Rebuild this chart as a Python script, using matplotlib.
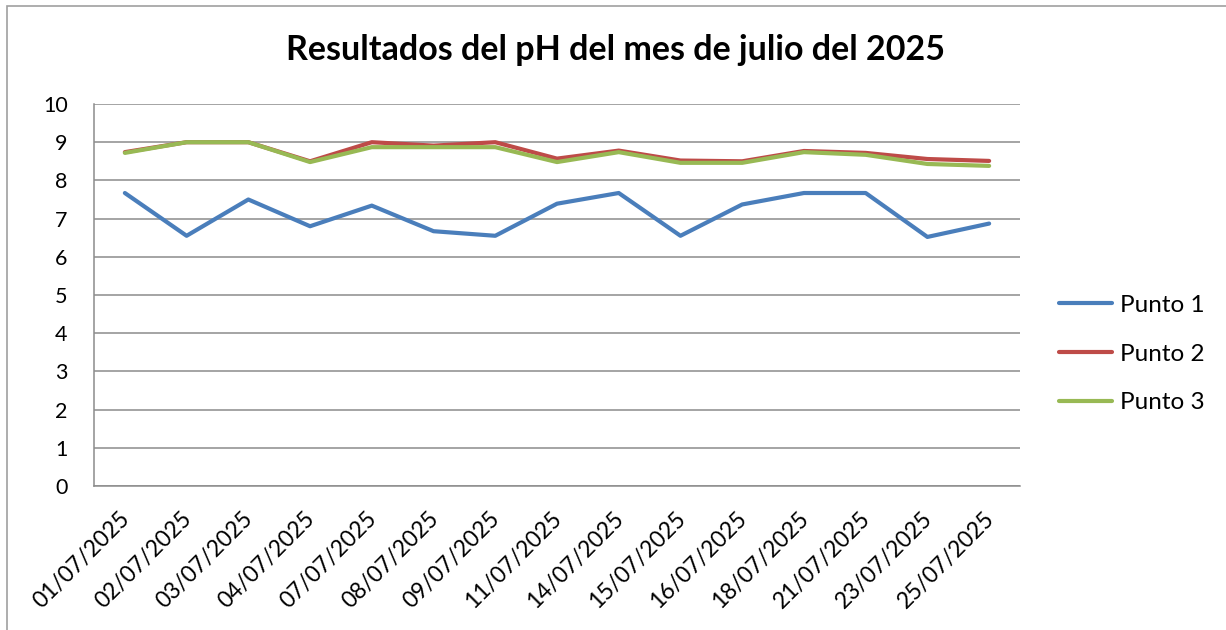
import matplotlib

matplotlib.use("Agg")
import matplotlib.pyplot as plt
from matplotlib.patches import Rectangle
from matplotlib.transforms import ScaledTranslation

plt.rcParams["font.family"] = ["Lato", "DejaVu Sans"]

fechas = ["01/07/2025", "02/07/2025", "03/07/2025", "04/07/2025", "07/07/2025",
          "08/07/2025", "09/07/2025", "11/07/2025", "14/07/2025", "15/07/2025",
          "16/07/2025", "18/07/2025", "21/07/2025", "23/07/2025", "25/07/2025"]
punto_1 = [7.67, 6.55, 7.50, 6.80, 7.34, 6.67, 6.55, 7.39, 7.67, 6.55, 7.37, 7.67, 7.67, 6.52, 6.87]
punto_2 = [8.74, 9.00, 9.00, 8.50, 9.00, 8.91, 9.00, 8.57, 8.78, 8.52, 8.50, 8.77, 8.72, 8.56, 8.51]
punto_3 = [8.72, 9.00, 9.00, 8.48, 8.87, 8.87, 8.87, 8.48, 8.74, 8.46, 8.46, 8.74, 8.67, 8.43, 8.38]

series = [("Punto 1", punto_1, "#4a7ebb"),
          ("Punto 2", punto_2, "#be4b48"),
          ("Punto 3", punto_3, "#98b954")]

W, H = 1226, 630
fig = plt.figure(figsize=(W / 100, H / 100), dpi=100)
ax = fig.add_axes([94 / W, 144 / H, 926 / W, 382 / H])

# outer chart border (only top/left visible in the original crop)
fig.patches.append(Rectangle((7 / W, -0.05), 1.1, 624 / H + 0.05, transform=fig.transFigure,
                             fill=False, edgecolor="#a0a0a0", linewidth=1.2))

x = list(range(len(fechas)))
for name, vals, color in series:
    ax.plot(x, vals, color=color, linewidth=3.0, label=name, solid_capstyle="round",
            solid_joinstyle="round")

ax.set_xlim(-0.5, len(fechas) - 0.5)
ax.set_ylim(0, 10)
ax.set_yticks(range(0, 11))
ax.grid(axis="y", color="#8c8c8c", linewidth=1.1)
ax.set_axisbelow(True)
for side in ("top", "right"):
    ax.spines[side].set_visible(False)
for side in ("left", "bottom"):
    ax.spines[side].set_color("#8c8c8c")
    ax.spines[side].set_linewidth(1.1)

ax.tick_params(axis="y", length=0, pad=19, labelsize=15.5)
ax.tick_params(axis="x", length=0, pad=16)
ax.set_xticks(x)
ax.set_xticklabels(fechas, rotation=45, ha="right", va="top", rotation_mode="anchor", fontsize=16.5)
shift = ScaledTranslation(-6 / 100, 0, fig.dpi_scale_trans)
for lbl in ax.get_xticklabels():
    lbl.set_transform(lbl.get_transform() + shift)

fig.text(615 / W, (H - 60) / H, "Resultados del pH del mes de julio del 2025", fontsize=24.5,
         fontweight="bold", ha="center", va="baseline")

leg = fig.legend(loc="center left", bbox_to_anchor=(1059 / W, (H - 354) / H), frameon=False,
                 fontsize=17.5, handlelength=2.2, labelspacing=1.15, handletextpad=0.3,
                 borderpad=0, borderaxespad=0)

fig.savefig("out.png", dpi=100)
